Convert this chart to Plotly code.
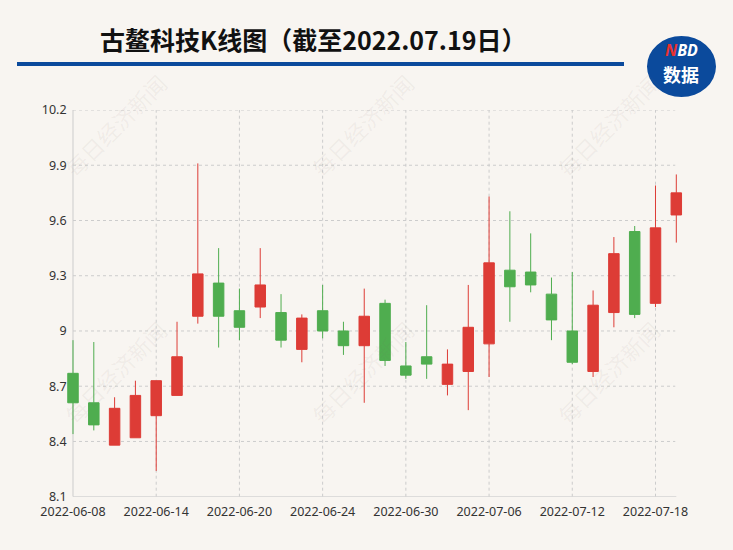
import plotly.graph_objects as go

# ---- data ----
dates = ["2022-06-08", "2022-06-09", "2022-06-10", "2022-06-13", "2022-06-14",
         "2022-06-15", "2022-06-16", "2022-06-17", "2022-06-20", "2022-06-21",
         "2022-06-22", "2022-06-23", "2022-06-24", "2022-06-27", "2022-06-28",
         "2022-06-29", "2022-06-30", "2022-07-01", "2022-07-04", "2022-07-05",
         "2022-07-06", "2022-07-07", "2022-07-08", "2022-07-11", "2022-07-12",
         "2022-07-13", "2022-07-14", "2022-07-15", "2022-07-18", "2022-07-19"]
opens = [8.77, 8.61, 8.38, 8.42, 8.54, 8.65, 9.08, 9.26, 9.11, 9.13,
         9.10, 8.90, 9.11, 9.00, 8.92, 9.15, 8.81, 8.86, 8.71, 8.78,
         8.93, 9.33, 9.32, 9.20, 9.00, 8.78, 9.10, 9.54, 9.15, 9.63]
closes = [8.61, 8.49, 8.58, 8.65, 8.73, 8.86, 9.31, 9.08, 9.02, 9.25,
          8.95, 9.07, 9.00, 8.92, 9.08, 8.84, 8.76, 8.82, 8.82, 9.02,
          9.37, 9.24, 9.25, 9.06, 8.83, 9.14, 9.42, 9.09, 9.56, 9.75]
highs = [8.95, 8.94, 8.64, 8.73, 8.73, 9.05, 9.91, 9.45, 9.23, 9.45,
         9.20, 9.09, 9.25, 9.05, 9.23, 9.17, 8.94, 9.14, 8.90, 9.25,
         9.73, 9.65, 9.53, 9.29, 9.32, 9.22, 9.51, 9.57, 9.79, 9.85]
lows = [8.44, 8.46, 8.38, 8.42, 8.24, 8.65, 9.04, 8.91, 8.95, 9.07,
        8.91, 8.83, 8.96, 8.87, 8.61, 8.81, 8.74, 8.74, 8.65, 8.57,
        8.75, 9.05, 9.21, 8.95, 8.82, 8.75, 9.02, 9.07, 9.13, 9.48]
y_tickvals = [8.1, 8.4, 8.7, 9.0, 9.3, 9.6, 9.9, 10.2]
y_ticktext = ["8.1", "8.4", "8.7", "9", "9.3", "9.6", "9.9", "10.2"]
x_tick_step = 4
title_text = "古鳌科技K线图（截至2022.07.19日）"
watermark_text = "每日经济新闻"

idx = list(range(len(dates)))
x_tickvals = idx[::x_tick_step]
x_ticktext = dates[::x_tick_step]
x_first, x_last = idx[0], idx[-1]
y_min, y_max = y_tickvals[0], y_tickvals[-1]

W, H = 733, 550
BG = "#F8F5F1"
RED = "#DD3C36"
GREEN = "#4FAD4F"
GRID = "#CCCCCC"
FONT = "Noto Sans, Noto Sans CJK SC, sans-serif"

def px_x(p):
    return p / W

def px_y(p):
    return 1 - p / H

left_px, right_px = 73.0, 676.3
top_px, bottom_px = 110.0, 496.7
unit = (right_px - left_px) / (len(dates) - 1)

fig = go.Figure()

fig.add_trace(go.Candlestick(
    x=idx, open=opens, high=highs, low=lows, close=closes,
    increasing=dict(line=dict(color=RED, width=1), fillcolor=RED),
    decreasing=dict(line=dict(color=GREEN, width=1), fillcolor=GREEN),
    whiskerwidth=0, showlegend=False,
    text=dates, hoverinfo="text+y"))

fig.update_layout(
    width=W, height=H,
    margin=dict(l=0, r=0, t=0, b=0, autoexpand=False),
    paper_bgcolor=BG, plot_bgcolor=BG,
    boxgap=0.3, boxgroupgap=0.28,
    hovermode="closest",
    font=dict(family=FONT, size=12.5, color="#333333"),
    xaxis=dict(domain=[px_x(left_px - unit / 2), px_x(right_px + unit / 2)],
               range=[x_first - 0.5, x_last + 0.5],
               tickmode="array", tickvals=x_tickvals, ticktext=x_ticktext,
               automargin=False, showspikes=False, showgrid=False,
               showline=False, ticks="outside", ticklen=3,
               tickcolor="rgba(0,0,0,0)", zeroline=False, fixedrange=True,
               rangeslider=dict(visible=False),
               tickfont=dict(size=12.5, color="#333333")),
    yaxis=dict(domain=[px_y(bottom_px), px_y(top_px)], range=[y_min, y_max],
               tickmode="array", tickvals=y_tickvals, ticktext=y_ticktext,
               automargin=False, showspikes=False, showgrid=False,
               showline=False, ticks="", ticklabelstandoff=-5,
               zeroline=False, fixedrange=True,
               tickfont=dict(size=12.5, color="#333333")),
)

# dashed gridlines limited to the data span, plus axis lines
for v in y_tickvals[1:]:
    fig.add_shape(type="line", xref="x", yref="y", x0=x_first, x1=x_last - 0.05,
                  y0=v, y1=v, layer="below",
                  line=dict(color=GRID, width=1, dash="3px,3px"))
for t in x_tickvals[1:]:
    fig.add_shape(type="line", xref="x", yref="y", x0=t, x1=t,
                  y0=y_min, y1=y_max, layer="below",
                  line=dict(color=GRID, width=1, dash="3px,3px"))
fig.add_shape(type="line", xref="x", yref="y", x0=x_first, x1=x_last,
              y0=y_min, y1=y_min, layer="below", line=dict(color=GRID, width=1))
fig.add_shape(type="line", xref="x", yref="y", x0=x_first, x1=x_first,
              y0=y_min, y1=y_max, layer="below", line=dict(color=GRID, width=1))

# title, rule and logo
fig.add_annotation(xref="paper", yref="paper", x=px_x(313), y=px_y(39),
                   text="<b>" + title_text + "</b>", showarrow=False,
                   xanchor="center", yanchor="middle",
                   font=dict(family="Noto Sans CJK SC", size=25, color="#111111"))
fig.add_shape(type="line", xref="paper", yref="paper",
              x0=px_x(17), x1=px_x(624), y0=px_y(64), y1=px_y(64),
              line=dict(color="#0B4A9C", width=4))
fig.add_shape(type="circle", xref="paper", yref="paper",
              x0=px_x(647), x1=px_x(716), y0=px_y(97), y1=px_y(36),
              fillcolor="#0B4A9C", line=dict(width=0))
fig.add_annotation(xref="paper", yref="paper", x=px_x(681), y=px_y(50),
                   text="<b><i><span style='color:#E8322F'>N</span>BD</i></b>",
                   showarrow=False, xanchor="center", yanchor="middle",
                   font=dict(family="Noto Sans", size=16, color="#FFFFFF"))
fig.add_annotation(xref="paper", yref="paper", x=px_x(681), y=px_y(74),
                   text="<b>数据</b>", showarrow=False,
                   xanchor="center", yanchor="middle",
                   font=dict(family="Noto Sans CJK SC", size=18, color="#FFFFFF"))

# watermarks
for cx in (115, 362, 608):
    for cy in (125, 372):
        fig.add_annotation(xref="paper", yref="paper", x=px_x(cx), y=px_y(cy),
                           text=watermark_text, showarrow=False, textangle=-45,
                           xanchor="center", yanchor="middle",
                           font=dict(family="Noto Sans CJK SC", size=22,
                                     color="rgba(120,110,100,0.08)"))

fig.write_html("out.html")
